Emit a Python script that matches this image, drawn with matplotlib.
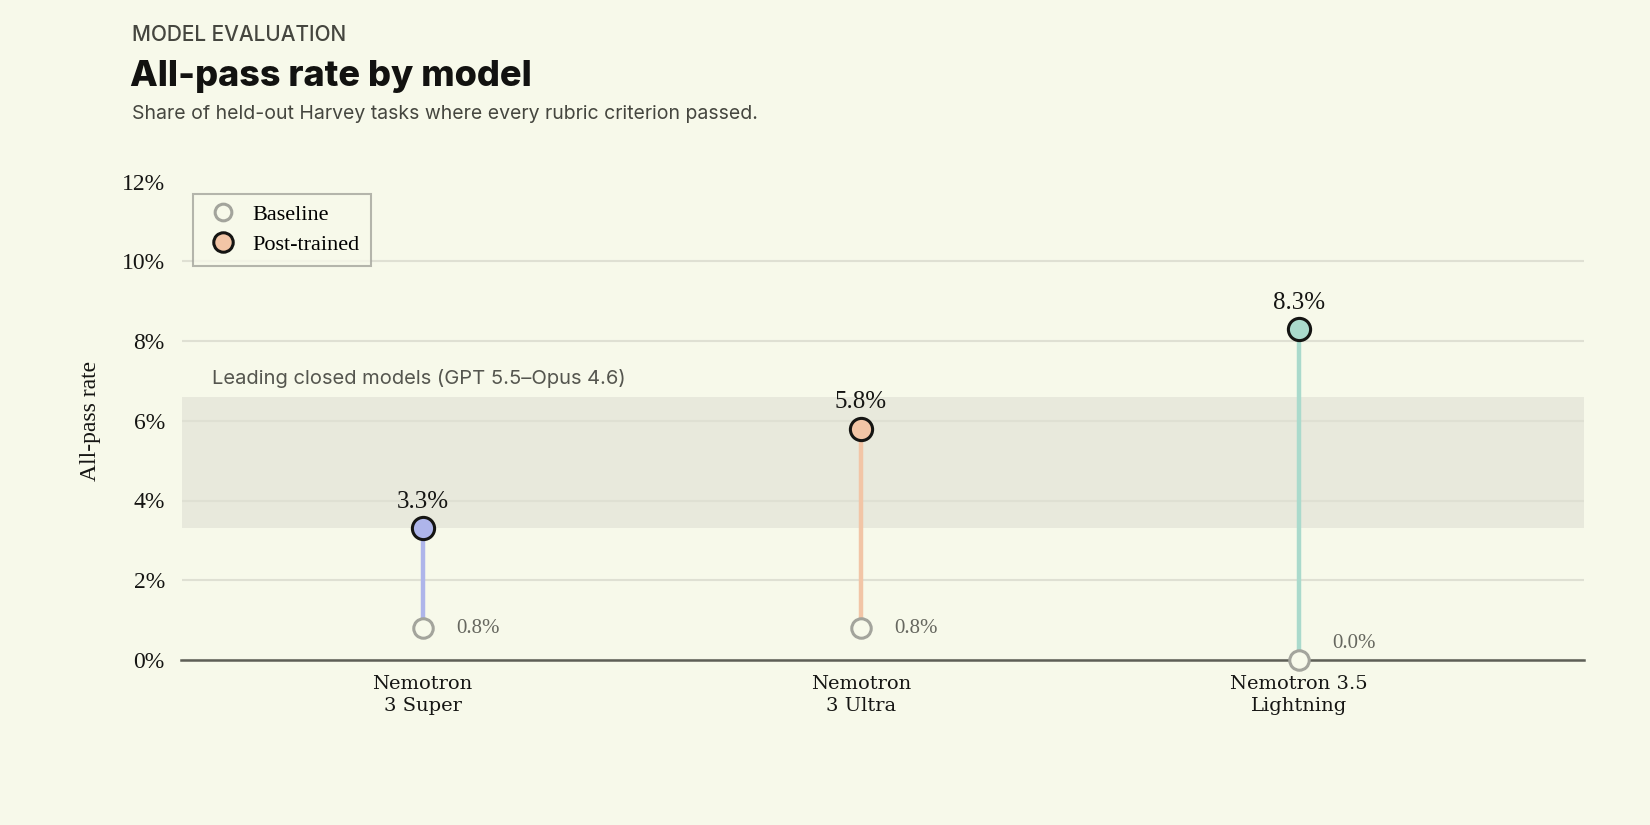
import matplotlib
matplotlib.use('Agg')
import matplotlib.pyplot as plt
from matplotlib.lines import Line2D

# data
models = ['Nemotron\n3 Super', 'Nemotron\n3 Ultra', 'Nemotron 3.5\nLightning']
baseline = [0.8, 0.8, 0.0]
post_trained = [3.3, 5.8, 8.3]
model_colors = ['#aeb5ea', '#f2c5a6', '#aadacc']
band_low, band_high = 3.3, 6.6
band_label = 'Leading closed models (GPT 5.5\u2013Opus 4.6)'
y_ticks = [0, 2, 4, 6, 8, 10, 12]

BG = '#f7f9ea'
SANS = 'Inter'
SERIF = 'Liberation Serif'

fig = plt.figure(figsize=(16.5, 8.25), dpi=100)
fig.patch.set_facecolor(BG)
ax = fig.add_axes([0.110, 0.200, 0.850, 0.580])
ax.set_facecolor(BG)

# header
fig.text(0.080, 0.957, 'MODEL EVALUATION', family=SANS, fontsize=15,
         fontweight='medium', color='#45463f', va='center')
fig.text(0.079, 0.907, 'All-pass rate by model', family=SANS, fontsize=26,
         fontweight='heavy', color='#121210', va='center')
fig.text(0.080, 0.862, 'Share of held-out Harvey tasks where every rubric criterion passed.',
         family=SANS, fontsize=14, color='#45463f', va='center')

# closed-model band
ax.axhspan(band_low, band_high, color='#e8e9dc', zorder=0, lw=0)
ax.text(-0.48, band_high + 0.45, band_label, family=SANS, fontsize=14.5,
        color='#55564f', va='center', ha='left')

for i, (b, p, c) in enumerate(zip(baseline, post_trained, model_colors)):
    ax.plot([i, i], [b, p], color=c, lw=3.2, zorder=3, solid_capstyle='butt')
    ax.plot(i, b, 'o', ms=14, mfc=BG, mec='#a3a49c', mew=2.2, zorder=4,
            clip_on=False)
    ax.plot(i, p, 'o', ms=16, mfc=c, mec='#151513', mew=2.2, zorder=5)
    ax.annotate('{0:.1f}%'.format(p), (i, p), xytext=(0, 19),
                textcoords='offset points', ha='center', va='center',
                family=SERIF, fontsize=18, color='#151513')
    ax.annotate('{0:.1f}%'.format(b), (i, max(b, 0.42)), xytext=(24, 0),
                textcoords='offset points', ha='left', va='center',
                family=SERIF, fontsize=15, color='#66675f')

ax.set_xlim(-0.55, 2.65)
ax.set_ylim(0, 12)
ax.set_yticks(y_ticks)
ax.set_yticklabels(['{0}%'.format(t) for t in y_ticks], family=SERIF,
                   fontsize=17, color='#151513')
ax.set_xticks(range(len(models)))
ax.set_xticklabels(models, family='DejaVu Serif', fontsize=14, color='#151513',
                   linespacing=1.3)
ax.tick_params(axis='both', length=0)
ax.tick_params(axis='x', pad=11)
ax.tick_params(axis='y', pad=12)
ax.set_ylabel('All-pass rate', family=SERIF, fontsize=17, color='#151513',
              labelpad=15)

ax.grid(axis='y', color='#dfe0d3', lw=1.5, zorder=1)
ax.set_axisbelow(True)
ax.get_ygridlines()[-1].set_visible(False)
for side in ['top', 'right', 'left']:
    ax.spines[side].set_visible(False)
ax.spines['bottom'].set_color('#5e5f57')
ax.spines['bottom'].set_linewidth(1.8)
ax.spines['bottom'].set_zorder(2)

handles = [
    Line2D([], [], marker='o', ls='', ms=12, mfc=BG, mec='#a3a49c', mew=2.2),
    Line2D([], [], marker='o', ls='', ms=14, mfc='#f2c5a6', mec='#151513', mew=2.2),
]
leg = ax.legend(handles, ['Baseline', 'Post-trained'], loc='upper left',
                bbox_to_anchor=(0.0, 0.998), prop={'family': SERIF, 'size': 16},
                frameon=True, fancybox=False, handletextpad=0.5,
                handlelength=1.7, borderpad=0.5, labelspacing=0.4)
leg.get_frame().set_facecolor(BG)
leg.get_frame().set_edgecolor('#a3a49c')
leg.get_frame().set_linewidth(1.5)

fig.savefig('out.png', dpi=100, facecolor=BG)
